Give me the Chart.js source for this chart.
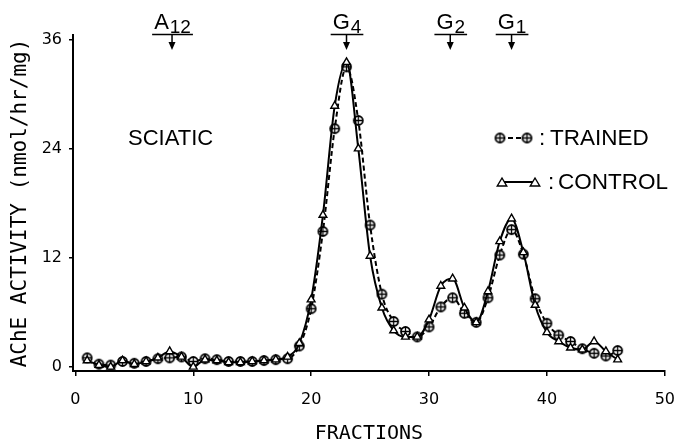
<!DOCTYPE html>
<html>
<head>
<meta charset="utf-8">
<script src="https://cdn.jsdelivr.net/npm/chart.js@4.4.1/dist/chart.umd.min.js"></script>
<style>
html, body { margin: 0; padding: 0; background: #fff; }
</style>
</head>
<body>
<canvas id="chart" width="689" height="446"></canvas>
<script>
// fraction numbers and AChE activity
const fractions = [1,2,3,4,5,6,7,8,9,10,11,12,13,14,15,16,17,18,19,20,21,22,23,24,25,26,27,28,29,30,31,32,33,34,35,36,37,38,39,40,41,42,43,44,45,46];
const trained = [1.0,0.3,0.2,0.6,0.4,0.6,0.9,1.0,1.1,0.6, 0.9,0.8,0.6,0.6,0.6,0.7,0.8,0.9,2.3,6.4,
                 14.9,26.2,33.0,27.1,15.6,8.0,5.0,3.9,3.3,4.4, 6.6,7.6,5.9,4.9,7.6,12.3,15.1,12.4,7.5,4.8,
                 3.5,2.8,2.0,1.5,1.2,1.8];
const control = [0.7,0.2,0.0,0.7,0.3,0.6,1.0,1.7,1.1,0.0, 0.8,0.7,0.5,0.5,0.6,0.7,0.8,1.1,2.6,7.4,
                 16.7,28.7,33.5,24.0,12.2,6.5,4.0,3.3,3.3,5.2, 8.9,9.7,6.5,4.9,8.3,13.8,16.3,12.6,6.8,3.8,
                 2.8,2.1,1.9,2.8,1.7,0.8];
const xTicks = [0,10,20,30,40,50];
const yTicks = [0,12,24,36];

// molecular form markers along the top
const peakNames = ['A','G','G','G'];
const peakSubs = ['12','4','2','1'];
const peakAt = [8.2,23,31.8,37];

// circle with a plus inside, for the trained series
function circlePlus(r) {
    const c = document.createElement('canvas');
    const s = Math.ceil(2 * r + 4);
    c.width = c.height = s;
    const g = c.getContext('2d');
    const m = s / 2;
    g.fillStyle = '#fff';
    g.strokeStyle = '#000';
    g.lineWidth = 1.8;
    g.beginPath(); g.arc(m, m, r, 0, Math.PI * 2); g.fill(); g.stroke();
    g.lineWidth = 1.3;
    g.beginPath();
    g.moveTo(m - r, m); g.lineTo(m + r, m);
    g.moveTo(m, m - r); g.lineTo(m, m + r);
    g.stroke();
    return c;
}
const plusMark = circlePlus(4.5);

function drawTriangle(ctx, x, y, r) {
    ctx.beginPath();
    ctx.moveTo(x, y - r);
    ctx.lineTo(x + r * 0.95, y + r * 0.6);
    ctx.lineTo(x - r * 0.95, y + r * 0.6);
    ctx.closePath();
    ctx.fillStyle = '#fff';
    ctx.fill();
    ctx.stroke();
}

const overlay = {
    id: 'overlay',
    afterDraw(chart) {
        const ctx = chart.ctx;
        const xs = chart.scales.x;
        ctx.save();
        ctx.fillStyle = '#000';
        ctx.strokeStyle = '#000';
        ctx.textAlign = 'left';
        ctx.textBaseline = 'alphabetic';

        // A12 / G4 / G2 / G1 labels with arrows
        peakAt.forEach((f, i) => {
            const x = xs.getPixelForValue(f);
            ctx.font = '22px "Liberation Sans"';
            const w1 = ctx.measureText(peakNames[i]).width;
            ctx.font = '19px "Liberation Sans"';
            const w2 = ctx.measureText(peakSubs[i]).width;
            const left = x - (w1 + w2) / 2;
            ctx.font = '22px "Liberation Sans"';
            ctx.fillText(peakNames[i], left, 29);
            ctx.font = '19px "Liberation Sans"';
            ctx.fillText(peakSubs[i], left + w1 + 1, 33);
            ctx.lineWidth = 1.5;
            ctx.beginPath();
            ctx.moveTo(left - 2, 34.5); ctx.lineTo(left + w1 + w2 + 3, 34.5);
            ctx.moveTo(x, 34.5); ctx.lineTo(x, 43);
            ctx.stroke();
            ctx.beginPath();
            ctx.moveTo(x - 3.5, 42); ctx.lineTo(x + 3.5, 42); ctx.lineTo(x, 50);
            ctx.closePath();
            ctx.fill();
        });

        // SCIATIC label
        ctx.textBaseline = 'middle';
        ctx.font = '22px "Liberation Sans"';
        ctx.fillText('SCIATIC', 128, 139);

        // legend
        ctx.lineWidth = 1.8;
        ctx.setLineDash([5, 3]);
        ctx.beginPath(); ctx.moveTo(500, 138); ctx.lineTo(527, 138); ctx.stroke();
        ctx.setLineDash([]);
        ctx.drawImage(plusMark, 500 - plusMark.width / 2, 138 - plusMark.height / 2);
        ctx.drawImage(plusMark, 527 - plusMark.width / 2, 138 - plusMark.height / 2);
        ctx.font = '22.5px "Liberation Sans"';
        ctx.fillText(':', 539, 139);
        ctx.fillText('TRAINED', 550, 139);

        ctx.beginPath(); ctx.moveTo(502, 182); ctx.lineTo(535, 182); ctx.stroke();
        ctx.lineWidth = 1.4;
        drawTriangle(ctx, 502, 183, 5);
        drawTriangle(ctx, 535, 183, 5);
        ctx.fillStyle = '#000';
        ctx.fillText(':', 548, 183);
        ctx.fillText('CONTROL', 558, 183);
        ctx.restore();
    }
};

const chart = document.querySelector('#chart').getContext('2d');

new Chart(chart, {
    type: 'line',
    data: {
        datasets: [
            {
                label: 'CONTROL',
                data: fractions.map((f, i) => ({ x: f, y: control[i] })),
                borderColor: '#000',
                borderWidth: 2,
                pointStyle: 'triangle',
                pointRadius: 4.5,
                pointBackgroundColor: '#fff',
                pointBorderColor: '#000',
                pointBorderWidth: 1.4,
                cubicInterpolationMode: 'monotone'
            },
            {
                label: 'TRAINED',
                data: fractions.map((f, i) => ({ x: f, y: trained[i] })),
                borderColor: '#000',
                borderWidth: 2,
                borderDash: [5, 3],
                pointStyle: plusMark,
                cubicInterpolationMode: 'monotone'
            }
        ]
    },
    options: {
        responsive: false,
        animation: false,
        devicePixelRatio: 1,
        layout: { padding: { top: 35, right: 21, left: 0, bottom: 0 } },
        plugins: {
            legend: { display: false },
            tooltip: { enabled: false }
        },
        scales: {
            x: {
                type: 'linear',
                min: -0.2,
                max: 50,
                afterBuildTicks: s => { s.ticks = xTicks.map(v => ({ value: v })); },
                afterFit: s => { s.height = 75; },
                grid: { drawOnChartArea: false, tickLength: 5, color: '#000', lineWidth: 1.5 },
                border: { color: '#000', width: 2 },
                ticks: { color: '#000', font: { family: 'DejaVu Sans', size: 16 }, padding: 14, maxRotation: 0 },
                title: {
                    display: true,
                    text: 'FRACTIONS',
                    color: '#000',
                    font: { family: 'DejaVu Sans Mono', size: 20 },
                    padding: { top: 0, bottom: 0 }
                }
            },
            y: {
                min: -0.45,
                max: 36.5,
                afterBuildTicks: s => { s.ticks = yTicks.map(v => ({ value: v })); },
                afterFit: s => { s.width = 73; },
                grid: { drawOnChartArea: false, tickLength: 4, color: '#000', lineWidth: 1.5 },
                border: { color: '#000', width: 2 },
                ticks: { color: '#000', font: { family: 'DejaVu Sans', size: 16 }, padding: 7 },
                title: {
                    display: true,
                    text: 'AChE ACTIVITY (nmol/hr/mg)',
                    color: '#000',
                    font: { family: 'DejaVu Sans Mono', size: 21 },
                    padding: { top: 8, bottom: 0 }
                }
            }
        }
    },
    plugins: [overlay]
});
</script>
</body>
</html>
